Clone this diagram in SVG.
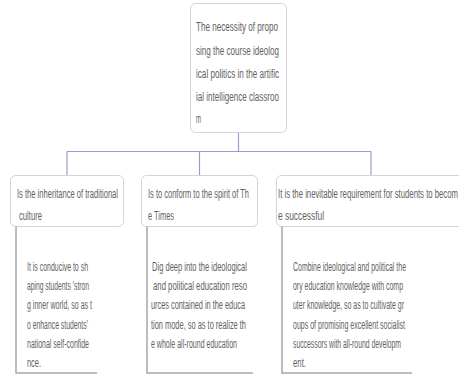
<svg xmlns="http://www.w3.org/2000/svg" width="459" height="375" viewBox="0 0 459 375">
<style>
.bg{fill:#ffffff}
.box{fill:#ffffff;stroke:#d4d4d4;stroke-width:1}
.conn{fill:none;stroke:#9b9bd0;stroke-width:1.2}
.leaf{fill:none;stroke:#a6a6a6;stroke-width:1.5}
text{font-family:"Liberation Sans Narrow","Liberation Sans",Arial,sans-serif;font-size:12.5px;fill:#626262}
</style>
<rect class="bg" x="0" y="0" width="459" height="375"/>
<g id="connectors">
<path class="conn" d="M238.5 133V151.5M67 151.5H371M67 151.5V175M199.5 151.5V175M371 151.5V175"/>
</g>
<g id="root">
<rect class="box" x="190.5" y="3.5" width="96" height="129" rx="5"/>
<text x="196" y="31" textLength="82" lengthAdjust="spacingAndGlyphs">The necessity of propo</text>
<text x="196" y="54.5" textLength="83" lengthAdjust="spacingAndGlyphs">sing the course ideolog</text>
<text x="196" y="77.5" textLength="83" lengthAdjust="spacingAndGlyphs">ical politics in the artific</text>
<text x="196" y="100.5" textLength="83" lengthAdjust="spacingAndGlyphs">ial intelligence classroo</text>
<text x="196" y="123" textLength="5" lengthAdjust="spacingAndGlyphs">m</text>
</g>
<g id="n1">
<rect class="box" x="10.5" y="175.5" width="113" height="51" rx="5"/>
<text x="17" y="197.5" textLength="101" lengthAdjust="spacingAndGlyphs">Is the inheritance of traditional</text>
<text x="19" y="219.5" textLength="23" lengthAdjust="spacingAndGlyphs">culture</text>
</g>
<g id="n2">
<rect class="box" x="141.5" y="175.5" width="116" height="51" rx="5"/>
<text x="148" y="197.5" textLength="101" lengthAdjust="spacingAndGlyphs">Is to conform to the spirit of Th</text>
<text x="148" y="219.5" textLength="26" lengthAdjust="spacingAndGlyphs">e Times</text>
</g>
<g id="n3">
<rect class="box" x="276.5" y="175.5" width="190" height="51" rx="5"/>
<text x="278" y="197.5" textLength="180" lengthAdjust="spacingAndGlyphs">It is the inevitable requirement for students to becom</text>
<text x="278" y="219.5" textLength="46" lengthAdjust="spacingAndGlyphs">e successful</text>
</g>
<g id="n1a">
<path class="leaf" d="M16 226.5V373H97"/>
<text x="27" y="270.5" textLength="61" lengthAdjust="spacingAndGlyphs">It is conducive to sh</text>
<text x="27" y="289.5" textLength="62" lengthAdjust="spacingAndGlyphs">aping students 'stron</text>
<text x="27" y="309" textLength="65" lengthAdjust="spacingAndGlyphs">g inner world, so as t</text>
<text x="27" y="328.5" textLength="61" lengthAdjust="spacingAndGlyphs">o enhance students'</text>
<text x="27" y="347.5" textLength="62" lengthAdjust="spacingAndGlyphs">national self-confide</text>
<text x="27" y="366.5" textLength="14" lengthAdjust="spacingAndGlyphs">nce.</text>
</g>
<g id="n2a">
<path class="leaf" d="M147 226.5V373H253"/>
<text x="152" y="270.5" textLength="95" lengthAdjust="spacingAndGlyphs">Dig deep into the ideological</text>
<text x="153" y="289.5" textLength="94" lengthAdjust="spacingAndGlyphs">and political education reso</text>
<text x="151" y="309" textLength="94" lengthAdjust="spacingAndGlyphs">urces contained in the educa</text>
<text x="151" y="328.5" textLength="95" lengthAdjust="spacingAndGlyphs">tion mode, so as to realize th</text>
<text x="151" y="347.5" textLength="86" lengthAdjust="spacingAndGlyphs">e whole all-round education</text>
</g>
<g id="n3a">
<path class="leaf" d="M282 226.5V373H412"/>
<text x="293" y="270.5" textLength="113" lengthAdjust="spacingAndGlyphs">Combine ideological and political the</text>
<text x="293" y="289.5" textLength="110" lengthAdjust="spacingAndGlyphs">ory education knowledge with comp</text>
<text x="293" y="309" textLength="111" lengthAdjust="spacingAndGlyphs">uter knowledge, so as to cultivate gr</text>
<text x="293" y="328.5" textLength="112" lengthAdjust="spacingAndGlyphs">oups of promising excellent socialist</text>
<text x="293" y="347.5" textLength="108" lengthAdjust="spacingAndGlyphs">successors with all-round developm</text>
<text x="293" y="366.5" textLength="13" lengthAdjust="spacingAndGlyphs">ent.</text>
</g>
</svg>
